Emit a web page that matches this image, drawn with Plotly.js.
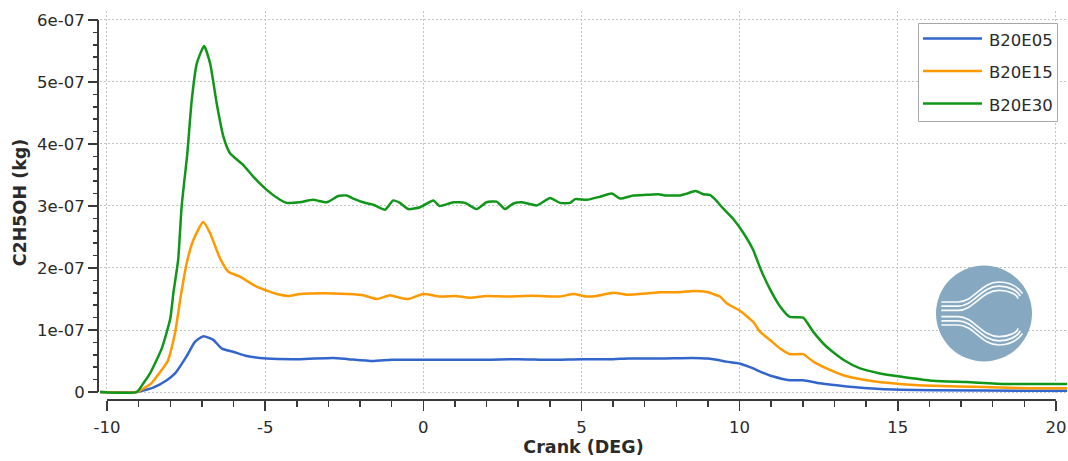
<!DOCTYPE html>
<html><head><meta charset="utf-8">
<script src="https://cdn.plot.ly/plotly-3.0.1.min.js"></script>
<style>html,body{margin:0;padding:0;background:#fff;overflow:hidden}#chart{width:1068px;height:461px}</style>
</head><body><div id="chart"></div>
<script>
// ---------- data (C2H5OH mass in kg vs crank angle in deg) ----------
const seriesNames = ['B20E05', 'B20E15', 'B20E30'];
const seriesColors = ['#3366cc', '#ff9900', '#109618'];

const crankE05 = [-10.22, -9.06, -8.54, -8.11, -7.85, -7.48, -7.22, -6.95, -6.64, -6.37, -6.01, -5.58, -4.95, -3.90, -2.85, -2.37, -1.60, -1.00, 0.00, 1.00, 2.00, 3.00, 4.00, 5.00, 6.00, 6.50, 7.50, 8.50, 9.00, 9.28, 9.59, 10.00, 10.43, 10.65, 11.07, 11.59, 12.01, 12.54, 13.39, 14.44, 16.12, 19.28, 20.35];
const massE05  = [0, 0, 0.07e-7, 0.19e-7, 0.30e-7, 0.58e-7, 0.81e-7, 0.90e-7, 0.84e-7, 0.70e-7, 0.65e-7, 0.58e-7, 0.54e-7, 0.53e-7, 0.55e-7, 0.53e-7, 0.50e-7, 0.52e-7, 0.52e-7, 0.52e-7, 0.52e-7, 0.53e-7, 0.52e-7, 0.53e-7, 0.53e-7, 0.54e-7, 0.54e-7, 0.55e-7, 0.54e-7, 0.52e-7, 0.49e-7, 0.46e-7, 0.38e-7, 0.33e-7, 0.25e-7, 0.19e-7, 0.19e-7, 0.14e-7, 0.09e-7, 0.05e-7, 0.03e-7, 0.02e-7, 0.02e-7];

const crankE15 = [-10.22, -9.06, -8.60, -8.35, -8.08, -7.85, -7.67, -7.48, -7.27, -6.96, -6.74, -6.43, -6.16, -5.80, -5.27, -4.63, -4.27, -3.90, -2.85, -2.37, -1.90, -1.47, -1.05, -0.75, -0.47, 0.00, 0.53, 1.00, 1.48, 2.00, 2.64, 3.16, 3.69, 4.32, 4.74, 5.17, 5.48, 6.01, 6.43, 7.06, 7.48, 8.12, 8.54, 9.01, 9.17, 9.38, 9.59, 10.01, 10.43, 10.65, 10.96, 11.28, 11.59, 12.01, 12.33, 12.75, 13.28, 14.02, 15.07, 16.12, 17.70, 19.28, 20.35];
const massE15  = [0, 0, 0.14e-7, 0.30e-7, 0.50e-7, 0.95e-7, 1.54e-7, 2.08e-7, 2.45e-7, 2.74e-7, 2.56e-7, 2.16e-7, 1.94e-7, 1.86e-7, 1.70e-7, 1.58e-7, 1.55e-7, 1.58e-7, 1.59e-7, 1.58e-7, 1.56e-7, 1.50e-7, 1.56e-7, 1.52e-7, 1.50e-7, 1.58e-7, 1.54e-7, 1.55e-7, 1.52e-7, 1.55e-7, 1.54e-7, 1.55e-7, 1.55e-7, 1.54e-7, 1.58e-7, 1.54e-7, 1.55e-7, 1.60e-7, 1.57e-7, 1.59e-7, 1.61e-7, 1.61e-7, 1.63e-7, 1.61e-7, 1.58e-7, 1.54e-7, 1.43e-7, 1.31e-7, 1.13e-7, 0.97e-7, 0.84e-7, 0.70e-7, 0.61e-7, 0.61e-7, 0.49e-7, 0.38e-7, 0.27e-7, 0.19e-7, 0.13e-7, 0.10e-7, 0.08e-7, 0.06e-7, 0.06e-7];

const crankE30 = [-10.22, -9.06, -8.85, -8.64, -8.27, -8.00, -7.90, -7.75, -7.64, -7.46, -7.32, -7.16, -6.93, -6.74, -6.53, -6.32, -6.11, -5.69, -5.37, -4.95, -4.53, -4.32, -3.90, -3.49, -3.05, -2.69, -2.42, -2.21, -1.90, -1.58, -1.21, -0.95, -0.74, -0.47, -0.10, 0.32, 0.51, 0.95, 1.32, 1.69, 2.00, 2.32, 2.58, 2.85, 3.11, 3.59, 4.01, 4.32, 4.64, 4.80, 5.17, 5.59, 5.96, 6.22, 6.64, 7.06, 7.43, 7.64, 8.12, 8.33, 8.61, 8.85, 9.06, 9.22, 9.48, 9.80, 10.10, 10.43, 10.65, 10.96, 11.28, 11.59, 12.01, 12.33, 12.75, 13.28, 13.81, 14.44, 15.07, 16.12, 17.18, 18.44, 20.35];
const massE30  = [0, 0, 0.14e-7, 0.30e-7, 0.70e-7, 1.18e-7, 1.60e-7, 2.13e-7, 2.99e-7, 3.85e-7, 4.71e-7, 5.30e-7, 5.58e-7, 5.30e-7, 4.65e-7, 4.12e-7, 3.85e-7, 3.66e-7, 3.47e-7, 3.26e-7, 3.10e-7, 3.05e-7, 3.06e-7, 3.10e-7, 3.06e-7, 3.16e-7, 3.17e-7, 3.12e-7, 3.06e-7, 3.02e-7, 2.94e-7, 3.09e-7, 3.05e-7, 2.95e-7, 2.98e-7, 3.09e-7, 3.00e-7, 3.06e-7, 3.05e-7, 2.95e-7, 3.06e-7, 3.07e-7, 2.95e-7, 3.04e-7, 3.06e-7, 3.01e-7, 3.13e-7, 3.05e-7, 3.05e-7, 3.11e-7, 3.10e-7, 3.15e-7, 3.20e-7, 3.12e-7, 3.17e-7, 3.18e-7, 3.19e-7, 3.17e-7, 3.17e-7, 3.20e-7, 3.24e-7, 3.19e-7, 3.18e-7, 3.11e-7, 2.96e-7, 2.79e-7, 2.58e-7, 2.29e-7, 2.00e-7, 1.66e-7, 1.38e-7, 1.21e-7, 1.20e-7, 0.97e-7, 0.73e-7, 0.52e-7, 0.38e-7, 0.30e-7, 0.25e-7, 0.18e-7, 0.16e-7, 0.13e-7, 0.13e-7];

const xTickVals = [-10, -5, 0, 5, 10, 15, 20];
const xTickText = ['-10', '-5', '0', '5', '10', '15', '20'];
const yTickVals = [0, 1e-7, 2e-7, 3e-7, 4e-7, 5e-7, 6e-7];
const yTickText = ['0', '1e-07', '2e-07', '3e-07', '4e-07', '5e-07', '6e-07'];
const xTitle = 'Crank (DEG)';
const yTitle = 'C2H5OH (kg)';

// ---------- layout geometry ----------
const W = 1068, H = 461;
const M = {l: 90, r: 1, t: 11, b: 58};
const xRange = [-10.221, 20.351];
const yRange = [-0.0323e-7, 6.145e-7];
const xDom = [10 / 977, 1];
const yDom = [9 / 392, 1];
const PW = W - M.l - M.r, PH = H - M.t - M.b;
const px2x = p => (p - M.l) / PW;
const px2y = p => (H - M.b - p) / PH;
const v2x = v => xDom[0] + (v - xRange[0]) / (xRange[1] - xRange[0]) * (xDom[1] - xDom[0]);
const v2y = v => yDom[0] + (v - yRange[0]) / (yRange[1] - yRange[0]) * (yDom[1] - yDom[0]);
const yAxisPos = px2x(98);
const xAxisPos = px2y(400);

const FONT = 'DejaVu Sans, Verdana, sans-serif';
const TXT = '#2a2a2a';
const AX = '#3a3a3a';
const GRID = '#c4c4c4';

const crankSets = [crankE05, crankE15, crankE30];
const massSets = [massE05, massE15, massE30];
const traces = seriesNames.map((n, i) => ({
  type: 'scatter', mode: 'lines', name: n,
  x: crankSets[i], y: massSets[i],
  line: {color: seriesColors[i], width: 2.5, shape: 'spline', smoothing: 0.5},
  showlegend: false, hoverinfo: 'x+y+name'
}));

// manual legend
const shapes = [];
const annotations = [];
shapes.push({type: 'rect', xref: 'paper', yref: 'paper',
  x0: px2x(918.5), x1: px2x(1057.5), y0: px2y(121.5), y1: px2y(23.5),
  line: {color: '#a8a8a8', width: 1}, fillcolor: '#ffffff', layer: 'above'});
const legRowY = [38.5, 71, 103.5];
seriesNames.forEach((n, i) => {
  shapes.push({type: 'line', xref: 'paper', yref: 'paper',
    x0: px2x(923), x1: px2x(982), y0: px2y(legRowY[i]), y1: px2y(legRowY[i]),
    line: {color: seriesColors[i], width: 2.5}, layer: 'above'});
  annotations.push({xref: 'paper', yref: 'paper', x: px2x(987), y: px2y(legRowY[i] + 1.5),
    xanchor: 'left', yanchor: 'middle', text: n, showarrow: false,
    font: {family: FONT, size: 16.5, color: TXT}});
});
// axis lines spanning exactly the labelled ranges
shapes.push({type: 'line', xref: 'paper', yref: 'paper',
  x0: yAxisPos, x1: yAxisPos, y0: v2y(yTickVals[0]), y1: v2y(yTickVals[yTickVals.length - 1]),
  line: {color: AX, width: 2}});
shapes.push({type: 'line', xref: 'paper', yref: 'paper',
  x0: v2x(xTickVals[0]), x1: v2x(xTickVals[xTickVals.length - 1]), y0: xAxisPos, y1: xAxisPos,
  line: {color: AX, width: 2}});

// logo
const logoSvg = (() => {
  const lines = [];
  [0, 4.2, 8.4].forEach(d => {
    const up = `M6,${37 + d} L22,${37 + d} C38,${37 + d} 45,${17 + d} 63,${17 + d} C73,${17 + d} 81,${21 + d} ${86 - d * 0.5},${28 + d * 0.6}`;
    const dn = `M6,${60 - d} L22,${60 - d} C38,${60 - d} 45,${80 - d} 63,${80 - d} C73,${80 - d} 81,${76 - d} ${86 - d * 0.5},${69 - d * 0.6}`;
    lines.push(`<path d="${up}"/>`, `<path d="${dn}"/>`);
  });
  return `<svg xmlns="http://www.w3.org/2000/svg" width="96" height="97" viewBox="0 0 96 97">` +
    `<circle cx="48" cy="48.5" r="48" fill="#86a8c0"/>` +
    `<g fill="none" stroke="#ffffff" stroke-width="1.7" stroke-linecap="round" opacity="0.95">${lines.join('')}</g></svg>`;
})();

const layout = {
  width: W, height: H,
  margin: M,
  paper_bgcolor: '#ffffff', plot_bgcolor: '#ffffff',
  font: {family: FONT, size: 16.5, color: TXT},
  showlegend: false,
  xaxis: {
    domain: xDom, range: xRange, anchor: 'free', position: xAxisPos,
    showline: false, zeroline: false,
    showgrid: true, gridcolor: GRID, gridwidth: 1, griddash: '2px,2px',
    tickmode: 'array', tickvals: xTickVals, ticktext: xTickText,
    ticks: 'outside', ticklen: 10, tickwidth: 1.5, tickcolor: AX,
    ticklabelstandoff: 2,
    minor: {tick0: 0, dtick: 1, ticks: 'outside', ticklen: 6, tickwidth: 1.5, tickcolor: AX, showgrid: false},
    tickfont: {family: FONT, size: 16.5, color: TXT},
    title: {text: xTitle, standoff: 4, font: {family: FONT, size: 17.5, color: TXT, weight: 'bold'}}
  },
  yaxis: {
    domain: yDom, range: yRange, anchor: 'free', position: yAxisPos,
    showline: false, zeroline: false,
    showgrid: true, gridcolor: GRID, gridwidth: 1, griddash: '2px,2px',
    tickmode: 'array', tickvals: yTickVals, ticktext: yTickText,
    ticks: 'outside', ticklen: 10, tickwidth: 1.5, tickcolor: AX,
    minor: {tick0: 0, dtick: 2e-8, ticks: 'outside', ticklen: 5, tickwidth: 1.5, tickcolor: AX, showgrid: false},
    tickfont: {family: FONT, size: 16.5, color: TXT},
    title: {text: yTitle, standoff: 4, font: {family: FONT, size: 17.5, color: TXT, weight: 'bold'}}
  },
  shapes: shapes,
  annotations: annotations,
  images: [{
    source: 'data:image/svg+xml;charset=utf-8,' + encodeURIComponent(logoSvg),
    xref: 'paper', yref: 'paper', x: px2x(936), y: px2y(265),
    sizex: 96 / PW, sizey: 97 / PH, xanchor: 'left', yanchor: 'top',
    sizing: 'stretch', layer: 'above'
  }]
};

Plotly.newPlot('chart', traces, layout, {displayModeBar: false, staticPlot: true});
</script>
</body></html>
